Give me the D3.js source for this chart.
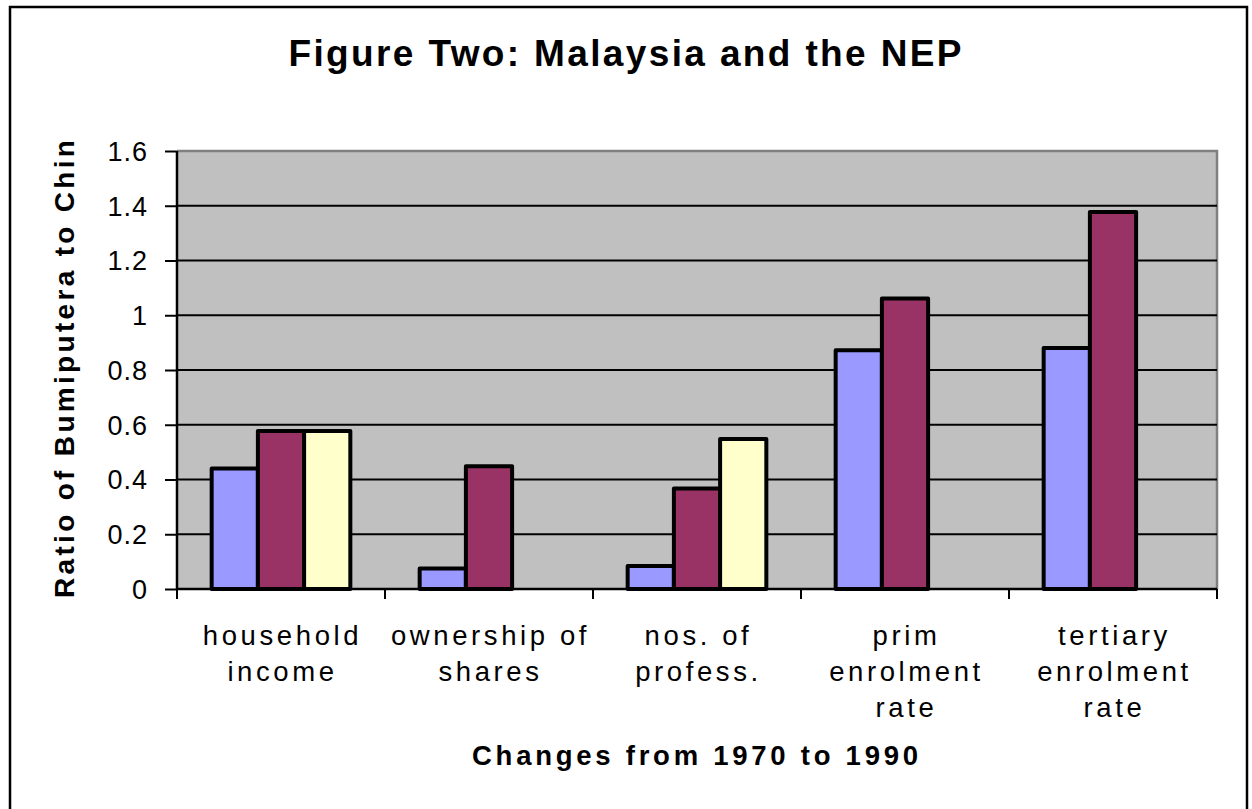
<!DOCTYPE html>
<html>
<head>
<meta charset="utf-8">
<script src="https://cdn.jsdelivr.net/npm/d3@7"></script>
<style>
  body { margin: 0; background: #fff; }
  text { font-family: Arial, "Liberation Sans", sans-serif; fill: #000; }
</style>
</head>
<body>
<script>
var categories = [
  ["household", "income"],
  ["ownership of", "shares"],
  ["nos. of", "profess."],
  ["prim", "enrolment", "rate"],
  ["tertiary", "enrolment", "rate"]
];
var seriesNames = ["s1", "s2", "s3"];
var series1 = [0.44, 0.075, 0.084, 0.872, 0.88];
var series2 = [0.577, 0.448, 0.367, 1.061, 1.377];
var series3 = [0.577, null, 0.548, null, null];
var colors = ["#9999ff", "#993366", "#ffffcc"];
var yTicks = [0, 0.2, 0.4, 0.6, 0.8, 1, 1.2, 1.4, 1.6];

var width = 1252,
    height = 809;

var plot = {left: 177, top: 151, right: 1217, bottom: 589};

var svg = d3.select("body").append("svg")
    .attr("width", width)
    .attr("height", height);

// outer frame
svg.append("rect")
    .attr("x", 10).attr("y", 7)
    .attr("width", 1237).attr("height", 820)
    .attr("fill", "#fff")
    .attr("stroke", "#000")
    .attr("stroke-width", 2.5);

var x0 = d3.scaleBand()
    .domain(d3.range(categories.length))
    .range([plot.left, plot.right]);

var x1 = d3.scaleBand()
    .domain(seriesNames)
    .range([0, x0.bandwidth()])
    .paddingOuter(0.75)
    .paddingInner(0);

var y = d3.scaleLinear()
    .domain([0, 1.6])
    .range([plot.bottom, plot.top]);

// plot background
svg.append("rect")
    .attr("x", plot.left).attr("y", plot.top)
    .attr("width", plot.right - plot.left)
    .attr("height", plot.bottom - plot.top)
    .attr("fill", "#c0c0c0");

// gray border top/right
svg.append("path")
    .attr("d", "M" + plot.left + "," + plot.top + "H" + plot.right + "V" + plot.bottom)
    .attr("fill", "none")
    .attr("stroke", "#808080")
    .attr("stroke-width", 2.5);

// gridlines
svg.append("g")
  .selectAll("line")
  .data(yTicks.filter(function(d){ return d > 0 && d < 1.6; }))
  .enter().append("line")
    .attr("x1", plot.left).attr("x2", plot.right)
    .attr("y1", function(d){ return y(d); })
    .attr("y2", function(d){ return y(d); })
    .attr("stroke", "#000")
    .attr("stroke-width", 2);

// bars
var rows = categories.map(function(c, i) {
  return [series1[i], series2[i], series3[i]];
});

var groups = svg.append("g")
  .selectAll("g")
  .data(rows)
  .enter().append("g")
    .attr("transform", function(d, i){ return "translate(" + x0(i) + ",0)"; });

groups.selectAll("rect")
  .data(function(d){
    return d.map(function(v, j){ return {v: v, s: seriesNames[j], c: colors[j]}; })
            .filter(function(o){ return o.v != null; });
  })
  .enter().append("rect")
    .attr("x", function(d){ return x1(d.s); })
    .attr("y", function(d){ return y(d.v); })
    .attr("width", x1.bandwidth())
    .attr("height", function(d){ return y(0) - y(d.v); })
    .attr("fill", function(d){ return d.c; })
    .attr("stroke", "#000")
    .attr("stroke-width", 4)
    .attr("stroke-linejoin", "round");

// y axis
var yAxis = svg.append("g")
    .attr("transform", "translate(" + plot.left + ",0)")
    .call(d3.axisLeft(y).tickValues(yTicks).tickSize(12).tickPadding(17)
      .tickFormat(function(d){ return String(d); }));
yAxis.select(".domain").attr("stroke", "#000").attr("stroke-width", 2.5)
    .attr("d", "M0," + plot.top + "V" + plot.bottom);
yAxis.selectAll(".tick line").attr("stroke", "#000").attr("stroke-width", 2);
yAxis.selectAll(".tick text")
    .style("font-size", "27px")
    .style("letter-spacing", "1px")
    .attr("font-family", "Arial, 'Liberation Sans', sans-serif")
    .attr("dy", "0.35em");

// x axis
var xAxis = svg.append("g")
    .attr("transform", "translate(0," + plot.bottom + ")");
xAxis.append("line")
    .attr("x1", plot.left).attr("x2", plot.right)
    .attr("stroke", "#000").attr("stroke-width", 2.5);
xAxis.selectAll(".xt")
  .data(d3.range(categories.length + 1))
  .enter().append("line")
    .attr("class", "xt")
    .attr("x1", function(i){ return plot.left + i * x0.step(); })
    .attr("x2", function(i){ return plot.left + i * x0.step(); })
    .attr("y1", 0).attr("y2", 10)
    .attr("stroke", "#000").attr("stroke-width", 2);

// category labels
svg.append("g")
  .selectAll("text")
  .data(categories)
  .enter().append("text")
    .attr("text-anchor", "middle")
    .style("font-size", "27.5px")
    .style("letter-spacing", "3.6px")
    .each(function(lines, i) {
      var t = d3.select(this);
      lines.forEach(function(l, k) {
        t.append("tspan")
          .attr("x", x0(i) + x0.bandwidth() / 2 + 1.5)
          .attr("y", 645 + k * 36)
          .text(l);
      });
    });

// titles
svg.append("text")
    .attr("x", 625).attr("y", 66)
    .attr("text-anchor", "middle")
    .attr("textLength", 673)
    .attr("lengthAdjust", "spacing")
    .style("font-size", "37px")
    .style("font-weight", "bold")
    .text("Figure Two: Malaysia and the NEP");

svg.append("text")
    .attr("x", 695).attr("y", 765)
    .attr("text-anchor", "middle")
    .attr("textLength", 446)
    .attr("lengthAdjust", "spacing")
    .style("font-size", "27.5px")
    .style("font-weight", "bold")
    .text("Changes from 1970 to 1990");

svg.append("text")
    .attr("transform", "translate(74,369) rotate(-90)")
    .attr("text-anchor", "middle")
    .attr("textLength", 458)
    .attr("lengthAdjust", "spacing")
    .style("font-size", "28px")
    .style("font-weight", "bold")
    .text("Ratio of Bumiputera to Chin");
</script>
</body>
</html>
